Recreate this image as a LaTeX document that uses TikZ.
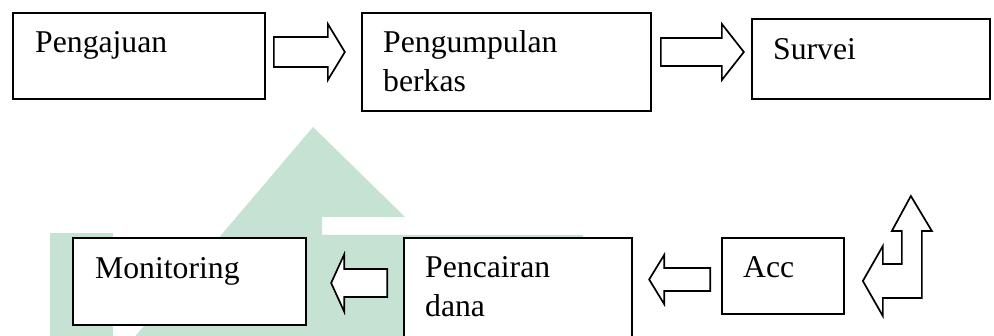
\documentclass[tikz,border=0pt]{standalone}
\usepackage{fontspec}
\setmainfont{Liberation Serif}
\usetikzlibrary{calc}
\definecolor{wmgreen}{RGB}{198,226,211}
\begin{document}
\begin{tikzpicture}[x=1pt,y=-1pt,
  box/.style={draw, line width=1.7pt, rectangle, inner sep=0pt},
  lbl/.style={anchor=base west, inner sep=0pt, align=left, font=\fontsize{31.7}{38.5}\selectfont},
  arr/.style={draw, line width=1.7pt, fill=white, line join=miter},
  wm/.style={fill=wmgreen, draw=none},
  pics/barrow/.style args={#1/#2/#3/#4}{code={%
    \draw[arr] (0,-#2) -- ({#1-#4},-#2) -- ({#1-#4},-#3) -- (#1,0) -- ({#1-#4},#3) -- ({#1-#4},#2) -- (0,#2) -- cycle;}}
]
\useasboundingbox (0,0) rectangle (994,336);
\clip (0,0) rectangle (994,336);
\fill[white] (0,0) rectangle (994,336);

% watermark
\path[wm] (313,127) -- (405,217) -- (322,217) -- (322,235) -- (583,235) -- (583,340) -- (132,340) -- cycle;
\path[wm] (50,233) rectangle (113,340);

% boxes
\node[box, minimum width=252pt, minimum height=86pt, fill=white] (b1) at (139,56) {};
\node[box, minimum width=289pt, minimum height=98pt, fill=white] (b2) at (506.5,62) {};
\node[box, minimum width=238pt, minimum height=80pt, fill=white] (b3) at (871,59) {};
\node[box, minimum width=233pt, minimum height=87pt, fill=white] (b4) at (189.5,281.5) {};
\node[box, minimum width=228pt, minimum height=112pt, fill=white] (b5) at (518,294) {};
\node[box, minimum width=122pt, minimum height=76pt, fill=white] (b6) at (783,276) {};

% labels (multi-line labels are anchored at the baseline of their last line)
\node[lbl] (t1) at (35,53) {Pengajuan};
\node[lbl] (t2) at (383,91.5) {Pengumpulan\\berkas};
\node[lbl] (t3) at (773,60) {Survei};
\node[lbl] (t4) at (95,279) {Monitoring};
\node[lbl] (t5) at (425,316.5) {Pencairan\\dana};
\node[lbl] (t6) at (743,278) {Acc};

% block arrows
\pic (a1) at ($(b1.east)+(8,-4)$) {barrow=71/15/28/17};
\pic (a2) at ($(b2.east)+(9,-10)$) {barrow=83/14/28/22};
\pic[rotate=180] (a3) at ($(b5.west)+(-16,-11)$) {barrow=56/14/28.5/13};
\pic[rotate=180] (a4) at ($(b6.west)+(-11,3.5)$) {barrow=61/11.5/24.5/15};

% u-turn arrow (Survei -> Acc)
\begin{scope}[shift={(b6.east)}]
\draw[arr] (18,5) -- (38,-30) -- (38,-12) -- (57,-12) -- (57,-45) -- (47,-45) -- (66,-80) -- (87,-45) -- (77,-45) -- (77,22) -- (38,22) -- (38,40) -- cycle;
\end{scope}
\end{tikzpicture}
\end{document}
